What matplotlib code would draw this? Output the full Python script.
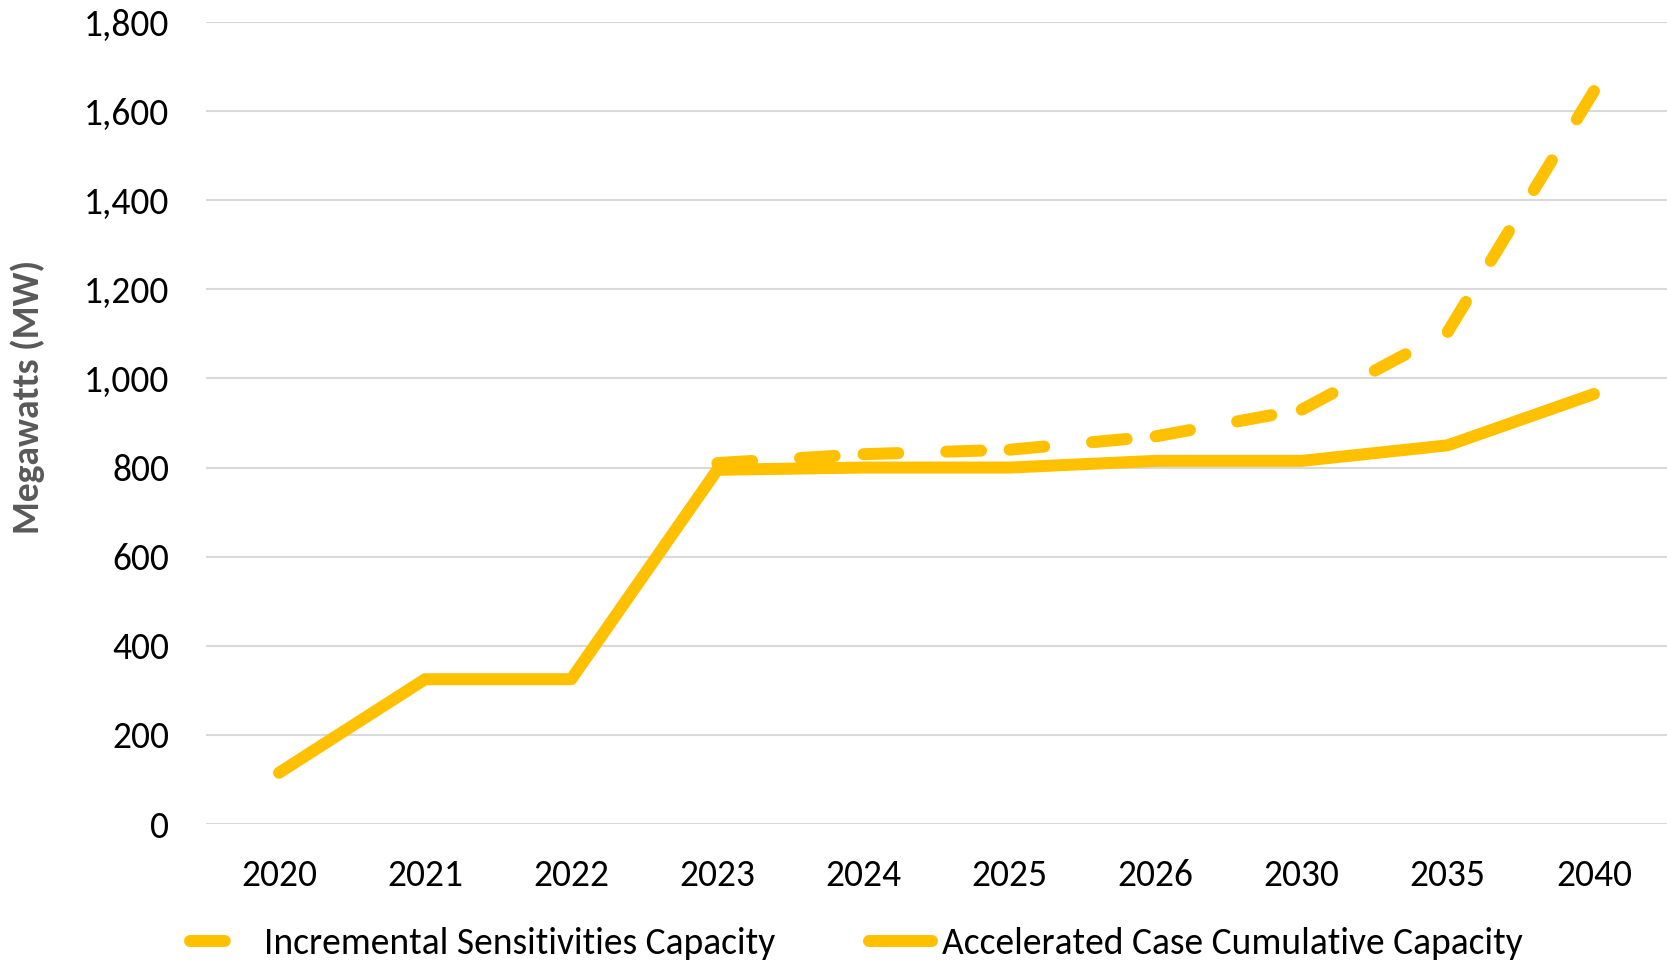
import numpy as np
import matplotlib
matplotlib.use("Agg")
import matplotlib.pyplot as plt

# ---------------------------------------------------------------------------
# Data
# ---------------------------------------------------------------------------
years = ["2020", "2021", "2022", "2023", "2024", "2025", "2026", "2030", "2035", "2040"]
accelerated = [115, 325, 325, 795, 800, 800, 815, 815, 850, 965]
incremental = [np.nan, np.nan, np.nan, 810, 830, 840, 870, 930, 1105, 1645]

YELLOW = "#FFC000"
FS = 27
LW = 8.64          # ~12 px at 100 dpi
DASH = (2.9, 4.0)  # in linewidths

plt.rcParams["font.family"] = ["Carlito", "DejaVu Sans"]

fig = plt.figure(figsize=(16.67, 9.61), dpi=100)
ax = fig.add_axes([206 / 1667, 1 - 824 / 961, 1 - 206 / 1667, (824 - 22) / 961])

x = np.arange(len(years))

# Excel restarts the dash pattern at every data point, so draw segment by segment
label = "Incremental Sensitivities Capacity"
for i in range(len(x) - 1):
    y0, y1 = incremental[i], incremental[i + 1]
    if np.isnan(y0) or np.isnan(y1):
        continue
    ax.plot(x[i:i + 2], [y0, y1], color=YELLOW, lw=LW, dashes=DASH,
            dash_capstyle="round", label=label)
    label = "_nolegend_"

ax.plot(x, accelerated, color=YELLOW, lw=LW, solid_capstyle="round",
        label="Accelerated Case Cumulative Capacity")

ax.set_xlim(-0.5, len(years) - 0.5)
ax.set_ylim(0, 1800)
ax.set_yticks(range(0, 1801, 200))
ax.set_yticklabels([f"{v:,}" for v in range(0, 1801, 200)])
ax.set_xticks(x)
ax.set_xticklabels(years)
ax.tick_params(length=0, labelsize=FS, colors="black")
ax.tick_params(axis="y", pad=26.5)
ax.tick_params(axis="x", pad=25.5)
ax.grid(axis="y", color="#D9D9D9", lw=1.5)
ax.set_axisbelow(True)
for s in ax.spines.values():
    s.set_visible(False)

ax.set_ylabel("Megawatts (MW)", fontsize=FS, fontweight="bold", color="#595959")
ax.yaxis.set_label_coords(-0.1105, 0.532)

fig.legend(loc="center left", bbox_to_anchor=(190 / 1667, 1 - 944 / 961),
           ncol=2, frameon=False, fontsize=FS, handlelength=1.68,
           handletextpad=0.28, columnspacing=2.5, borderpad=0, borderaxespad=0)

fig.savefig("out.png", dpi=100)
